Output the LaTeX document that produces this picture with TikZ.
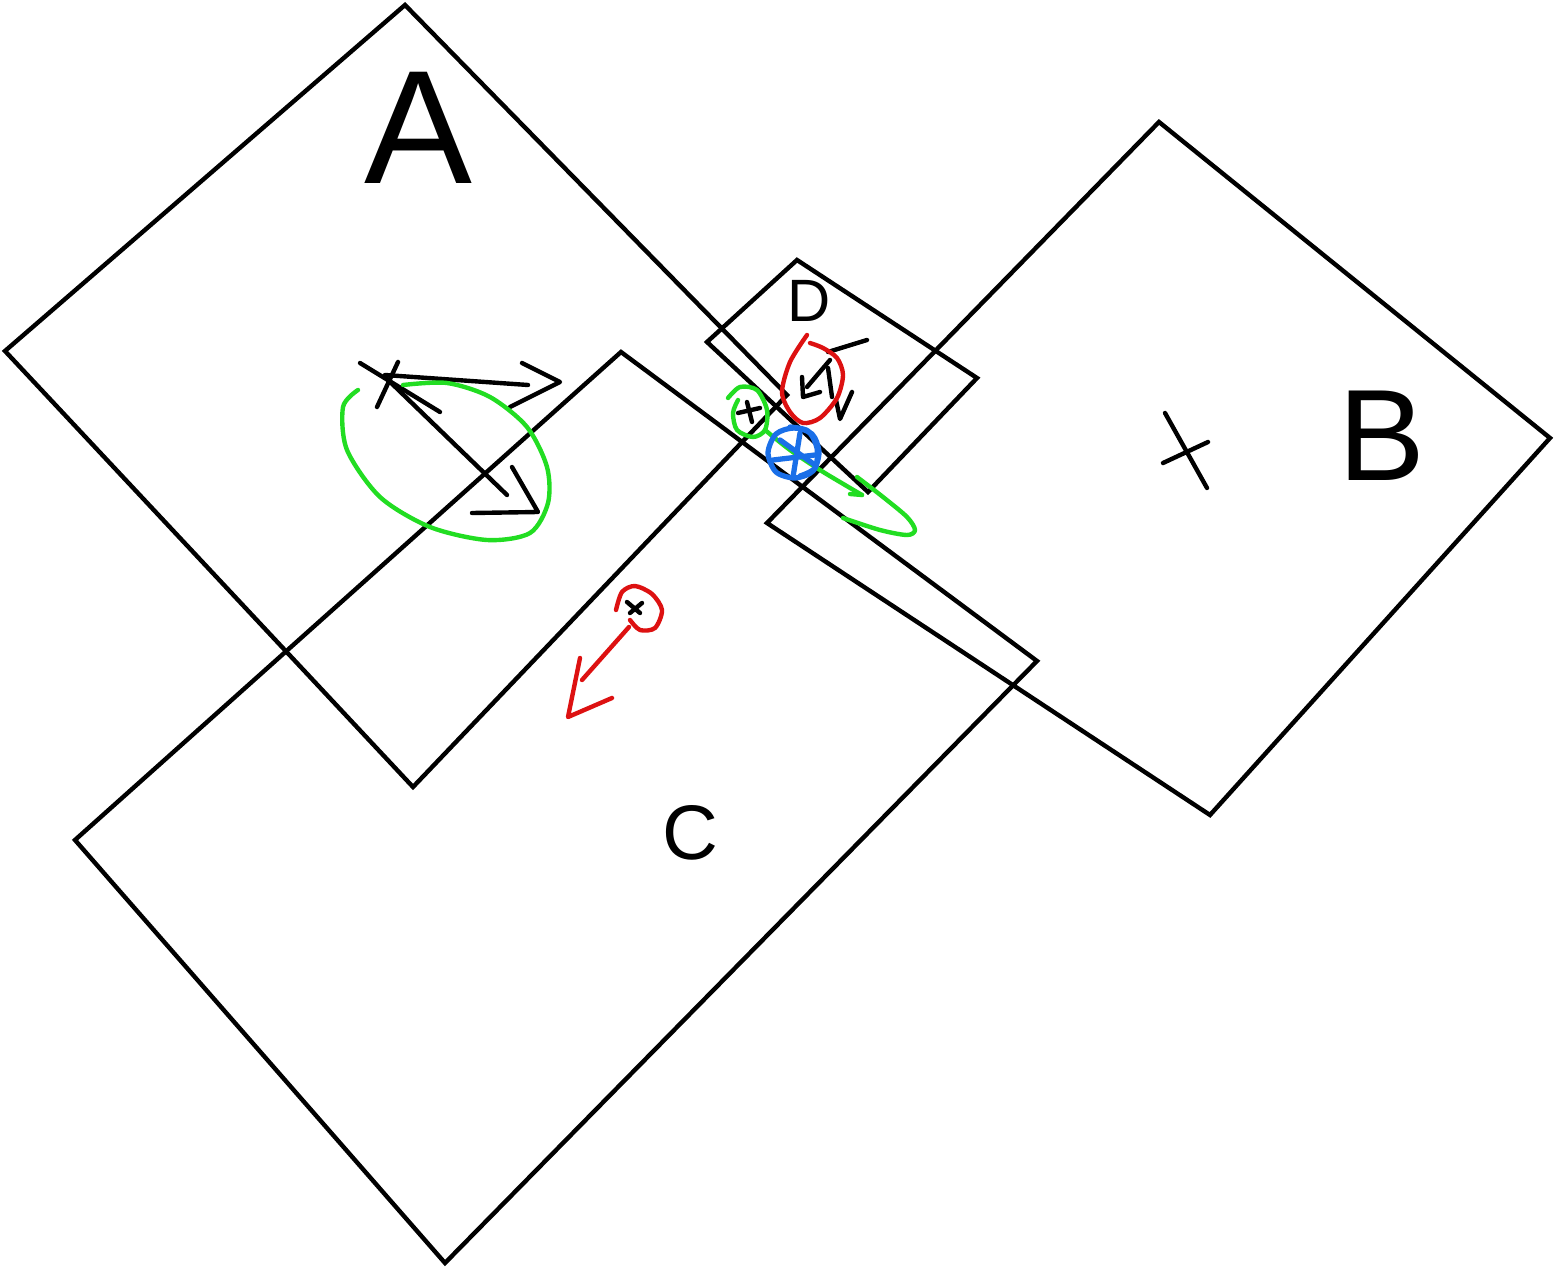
\documentclass[tikz,border=0pt]{standalone}
\usepackage{fontspec}
\setmainfont{Liberation Sans}
\definecolor{penGreen}{HTML}{22DD22}
\definecolor{penRed}{HTML}{DD1111}
\definecolor{penBlue}{HTML}{1A6FE8}
\usetikzlibrary{arrows.meta}
\begin{document}
\begin{tikzpicture}[x=0.01cm, y=-0.01cm,
  sheet/.style={draw=black, line width=1.25pt, line join=miter},
  ink/.style={draw=black, line width=1.25pt, line cap=round, line join=round},
  greenink/.style={draw=penGreen, line width=1.25pt, line cap=round, line join=round},
  redink/.style={draw=penRed, line width=1.25pt, line cap=round, line join=round},
  blueink/.style={draw=penBlue, line width=1.5pt, line cap=round, line join=round},
  letter/.style={inner sep=0pt, text=black}
]
\useasboundingbox (0,0) rectangle (1555,1270);
% the four sheets
\draw[sheet] (405,5) -- (5,351) -- (413,787) -- (787,395) -- cycle;
\draw[sheet] (1159,122) -- (1550,438) -- (1210,815) -- (767,523) -- cycle;
\draw[sheet] (621,352) -- (75,840) -- (445,1263) -- (1037,661) -- cycle;
\draw[sheet] (797,260) -- (707,342) -- (868,492) -- (977,378) -- cycle;
% labels
\node[letter, font=\fontsize{46}{50}\selectfont] (labelA) at (418,128) {A};
\node[letter, font=\fontsize{37}{40}\selectfont] (labelB) at (1382,436) {B};
\node[letter, font=\fontsize{22}{26}\selectfont] (labelC) at (690,833) {C};
\node[letter, font=\fontsize{17}{20}\selectfont] (labelD) at (809,301) {D};
% marks and arrows in A
\draw[ink] (360,363) -- (440,412);
\draw[ink] (398,362) -- (377,407);
\draw[ink] (385,377) -- (507,495);
\draw[ink] (512,467) -- (538,512) -- (472,513);
\draw[ink] (385,375) -- (528,385);
\draw[ink] (522,363) -- (560,382) -- (510,407);
\draw[greenink] plot[smooth] coordinates {(358,390) (343,407) (347,450) (380,497)
  (430,527) (487,540) (530,533) (548,503) (547,467) (527,427) (490,397) (447,383) (403,385)};
% centre mark of B
\draw[ink] (1165,413) -- (1207,488);
\draw[ink] (1163,463) -- (1208,442);
% red arrow in C
\draw[ink] (627,602) -- (640,613);
\draw[ink] (630,613) -- (642,603);
\draw[redink] plot[smooth] coordinates {(616,610) (622,592) (635,586) (652,594)
  (662,610) (655,628) (640,630) (630,620)};
\draw[redink] (629,627) -- (582,680);
\draw[redink] (580,658) -- (568,717) -- (612,698);
% strokes in D
\draw[ink] (867,340) -- (828,352);
\draw[ink] (830,360) -- (807,387);
\draw[ink] (802,377) -- (803,397) -- (820,392);
\draw[ink] (828,368) -- (832,397);
\draw[ink] (836,400) -- (840,419) -- (852,392);
\draw[redink] plot[smooth] coordinates {(807,335) (790,362) (782,392) (790,412)
  (803,423) (820,418) (837,398) (843,375) (837,358) (823,348) (810,343)};
% small green loop and tail
\draw[ink] (738,413) -- (760,408);
\draw[ink] (747,402) -- (752,422);
\draw[greenink] plot[smooth] coordinates {(728,398) (740,387) (757,390) (767,410)
  (765,430) (753,437) (737,430) (733,413) (738,400)};
\draw[greenink] plot[smooth] coordinates {(765,430) (790,450) (820,470) (845,485) (862,495)};
\draw[greenink] (862,495) -- (850,494);
\draw[greenink] plot[smooth] coordinates {(857,477) (883,497) (907,517) (915,530)
  (907,535) (880,530) (843,518)};
% blue circle
\draw[blueink] plot[smooth cycle] coordinates {(794,428) (812,434) (819,452) (813,471)
  (795,478) (776,472) (768,453) (776,434)};
\draw[blueink] plot[smooth] coordinates {(790,427) (808,431) (817,448) (815,468) (800,476)};
\draw[blueink] (773,460) -- (815,455);
\draw[blueink] (800,433) -- (793,477);
\draw[blueink] (780,440) -- (815,465);
\end{tikzpicture}
\end{document}
